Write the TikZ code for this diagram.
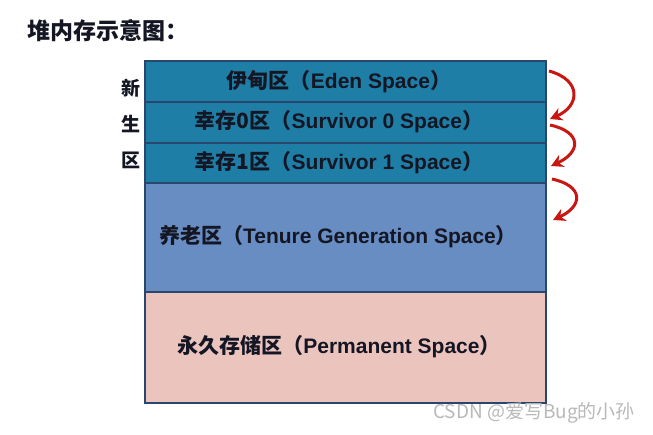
\documentclass[tikz,border=0pt]{standalone}
\usepackage{fontspec}
\setmainfont{Liberation Sans}
\newfontfamily\cjk{Noto Sans CJK SC}
\usetikzlibrary{arrows.meta}
\definecolor{teal1}{RGB}{31,126,166}
\definecolor{tenure}{RGB}{103,141,194}
\definecolor{perm}{RGB}{236,196,190}
\definecolor{edge}{RGB}{40,70,110}
\definecolor{txt}{RGB}{20,22,35}
\definecolor{arrowred}{RGB}{200,22,18}
\newcommand{\zh}[1]{{\cjk\bfseries #1}}
\tikzset{
  region/.style={draw=edge, line width=1.2pt, inner sep=0pt, minimum width=401pt},
  lbl/.style={text=txt, font=\fontsize{21}{24}\selectfont\bfseries, inner sep=0pt},
  side/.style={text=txt, font=\fontsize{19}{21}\selectfont\cjk\bfseries, inner sep=0pt},
  flow/.style={draw=arrowred, line width=3pt, -{Stealth[length=12pt,width=13pt]}}
}
\begin{document}
\begin{tikzpicture}[x=1pt,y=-1pt]
\useasboundingbox[fill=white] (0,0) rectangle (653,434);
\node[text=txt, font=\fontsize{23}{26}\selectfont\cjk\bfseries, anchor=west, inner sep=0pt] (title) at (27,31) {堆内存示意图：};
% regions
\node[region, fill=teal1, minimum height=41pt] (eden) at (345.5,81.5) {};
\node[region, fill=teal1, minimum height=41pt] (s0) at (345.5,122.5) {};
\node[region, fill=teal1, minimum height=40pt] (s1) at (345.5,163) {};
\node[region, fill=tenure, minimum height=109pt] (ten) at (345.5,237.5) {};
\node[region, fill=perm, minimum height=111pt] (perm) at (345.5,347.5) {};
% labels
\node[lbl] (edenT) at (339,81.5) {\zh{伊甸区（}Eden Space\zh{）}};
\node[lbl] (s0T) at (339,122) {\zh{幸存0区（}Survivor 0 Space\zh{）}};
\node[lbl] (s1T) at (339,163) {\zh{幸存1区（}Survivor 1 Space\zh{）}};
\node[lbl] (tenT) at (338,237) {\zh{养老区（}Tenure Generation Space\zh{）}};
\node[lbl] (permT) at (339,347) {\zh{永久存储区（}Permanent Space\zh{）}};
% side label
\node[side] (x1) at (131,88) {新};
\node[side] (x2) at (131,124) {生};
\node[side] (x3) at (131,160) {区};
% arrows
\coordinate (a1s) at (549,71);
\coordinate (a1e) at (550,119);
\coordinate (a2s) at (550,125);
\coordinate (a2e) at (551,166);
\coordinate (a3s) at (552,179);
\coordinate (a3e) at (553,220);
\draw[flow] (a1s) .. controls (582,80) and (580,106) .. (a1e);
\draw[flow] (a2s) .. controls (582,132) and (581,152) .. (a2e);
\draw[flow] (a3s) .. controls (584,186) and (583,206) .. (a3e);
% watermark
\node[text=gray!55, font=\fontsize{19}{21}\selectfont\cjk, anchor=west, inner sep=0pt] (wm) at (433,413) {CSDN @爱写Bug的小孙};
\end{tikzpicture}
\end{document}
